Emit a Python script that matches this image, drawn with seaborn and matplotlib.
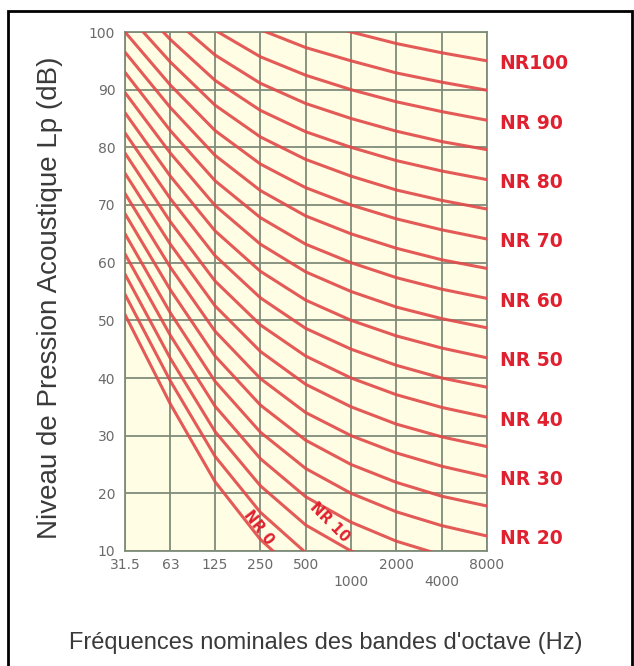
import pandas as pd
import matplotlib.pyplot as plt
import seaborn as sns
from matplotlib.patches import Rectangle

# fréquences des bandes d'octave
freqs = [31.5, 63, 125, 250, 500, 1000, 2000, 4000, 8000]
freq_labels = ['31.5', '63', '125', '250', '500', '1000', '2000', '4000', '8000']

# courbes NR (niveaux en dB)
nr_levels = [0, 5, 10, 15, 20, 25, 30, 35, 40, 45, 50,
             55, 60, 65, 70, 75, 80, 85, 90, 95, 100]
nr_table = [
    [51.0, 35.5, 22.0, 12.0, 4.8, 0, -3.5, -6.1, -8.0],
    [54.5, 39.5, 26.4, 16.7, 9.7, 5, 1.6, -1.0, -2.9],
    [58.0, 43.4, 30.7, 21.3, 14.5, 10, 6.7, 4.2, 2.3],
    [61.5, 47.4, 35.1, 26.0, 19.4, 15, 11.7, 9.3, 7.5],
    [65.0, 51.3, 39.4, 30.6, 24.3, 20, 16.8, 14.4, 12.6],
    [68.5, 55.3, 43.8, 35.3, 29.2, 25, 21.9, 19.5, 17.8],
    [72.0, 59.2, 48.1, 39.9, 34.0, 30, 27.0, 24.7, 22.9],
    [75.5, 63.2, 52.5, 44.6, 38.9, 35, 32.0, 29.8, 28.1],
    [79.0, 67.1, 56.8, 49.2, 43.8, 40, 37.1, 34.9, 33.2],
    [82.5, 71.1, 61.2, 53.9, 48.6, 45, 42.2, 40.0, 38.4],
    [86.0, 75.0, 65.5, 58.5, 53.5, 50, 47.3, 45.2, 43.5],
    [89.5, 79.0, 69.9, 63.2, 58.4, 55, 52.3, 50.3, 48.7],
    [93.0, 82.9, 74.2, 67.8, 63.2, 60, 57.4, 55.4, 53.8],
    [96.5, 86.9, 78.6, 72.5, 68.1, 65, 62.5, 60.5, 59.0],
    [100.0, 90.8, 82.9, 77.1, 73.0, 70, 67.6, 65.7, 64.1],
    [103.5, 94.8, 87.3, 81.8, 77.9, 75, 72.6, 70.8, 69.3],
    [107.0, 98.7, 91.6, 86.4, 82.7, 80, 77.7, 75.9, 74.4],
    [110.5, 102.7, 96.0, 91.1, 87.6, 85, 82.8, 81.0, 79.6],
    [114.0, 106.6, 100.3, 95.7, 92.5, 90, 87.9, 86.2, 84.7],
    [117.5, 110.6, 104.7, 100.4, 97.3, 95, 92.9, 91.3, 89.9],
    [121.0, 114.5, 109.0, 105.0, 102.2, 100, 98.0, 96.4, 95.0],
]

# étiquettes à droite
right_labels = ['NR100', 'NR 90', 'NR 80', 'NR 70', 'NR 60', 'NR 50', 'NR 40', 'NR 30', 'NR 20']
right_levels = [100, 90, 80, 70, 60, 50, 40, 30, 20]

rows = []
for nr, vals in zip(nr_levels, nr_table):
    for f, v in zip(freqs, vals):
        rows.append({'nr': nr, 'freq': f, 'level': v})
df = pd.DataFrame(rows)

sns.set_style("white")
plt.rcParams['font.family'] = ['Liberation Sans', 'DejaVu Sans']

red = '#e04848'
grid_col = '#7f8c7a'

fig = plt.figure(figsize=(6.34, 6.66), dpi=100)
ax = fig.add_axes([125 / 634, 1 - 551 / 666, 362 / 634, 519 / 666])
ax.set_facecolor('#fffde3')

sns.lineplot(data=df, x='freq', y='level', units='nr', estimator=None,
             color=red, lw=2.2, alpha=0.9, legend=False, ax=ax, zorder=3)

ax.set_xscale('log', base=2)
ax.set_xlim(31.5, 8000)
ax.set_ylim(10, 100)
ax.minorticks_off()
ax.set_xticks(freqs)
ax.set_xticklabels(freq_labels)
ax.set_yticks(range(10, 101, 10))
ax.tick_params(axis='both', length=0, labelsize=10, labelcolor='#6a6a6a')
ax.tick_params(axis='y', pad=7)
for lab in ax.get_xticklabels() + ax.get_yticklabels():
    lab.set_family('DejaVu Sans')
for i, tick in enumerate(ax.xaxis.get_major_ticks()):
    tick.set_pad(17 if i in (5, 7) else 5)

ax.grid(True, color=grid_col, lw=1.3, zorder=1)
for s in ax.spines.values():
    s.set_color(grid_col)
    s.set_linewidth(1.3)
ax.set_xlabel('')
ax.set_ylabel('')

for lab, nr in zip(right_labels, right_levels):
    y_end = nr_table[nr_levels.index(nr)][-1]
    ax.text(1.035, y_end - 0.5, lab, transform=ax.get_yaxis_transform(),
            color='#e0202e', fontsize=13.5, fontweight='bold',
            family='DejaVu Sans', va='center', ha='left', clip_on=False)

ax.text(242, 14.0, 'NR 0', color='#e0202e', fontsize=10.5, fontweight='bold',
        rotation=-52, ha='center', va='center', family='DejaVu Sans', zorder=4)
ax.text(720, 15.0, 'NR 10', color='#e0202e', fontsize=10.5, fontweight='bold',
        rotation=-45, ha='center', va='center', family='DejaVu Sans', zorder=4)

fig.text(50 / 634, 1 - 298 / 666, 'Niveau de Pression Acoustique Lp (dB)',
         rotation=90, ha='center', va='center', fontsize=20, color='#3a3a3a')
fig.text(326 / 634, 1 - 643 / 666, "Fréquences nominales des bandes d'octave (Hz)",
         ha='center', va='center', fontsize=17, color='#3a3a3a')

# cadre
fig.patches.append(Rectangle((8 / 634, -0.05), 624 / 634, 1.05 - 11 / 666,
                             transform=fig.transFigure, fill=False,
                             edgecolor='black', lw=2))

fig.savefig('out.png', dpi=100)
